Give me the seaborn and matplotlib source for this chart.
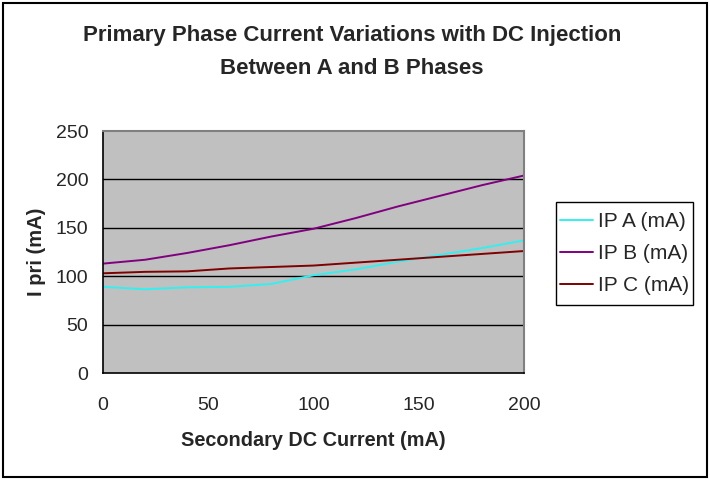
import matplotlib
matplotlib.use("Agg")
import matplotlib.pyplot as plt
import seaborn as sns
import pandas as pd
from matplotlib.patches import Rectangle

x_vals = [0, 20, 40, 60, 80, 100, 120, 140, 160, 180, 200]
ip_a = [89, 86.5, 88.5, 89, 92, 101, 107, 115, 122, 129, 137]
ip_b = [113, 117, 124, 132, 141, 149, 160, 172, 183, 194, 204]
ip_c = [103, 104.5, 105, 108, 109.5, 111, 114, 117, 120, 123, 126]
series_names = ["IP A (mA)", "IP B (mA)", "IP C (mA)"]
colors = ["#33F0F0", "#800080", "#800000"]
y_ticks = [0, 50, 100, 150, 200, 250]
x_ticks = [0, 50, 100, 150, 200]

rows = []
for name, vals in zip(series_names, [ip_a, ip_b, ip_c]):
    for xv, yv in zip(x_vals, vals):
        rows.append({"x": xv, "y": yv, "series": name})
df = pd.DataFrame(rows)

sns.set_style("white")
plt.rcParams['font.family'] = ['Liberation Sans', 'DejaVu Sans']

fig = plt.figure(figsize=(7.1, 4.8), dpi=100)
W, H = 710, 480
ax = fig.add_axes([103 / W, 1 - 373 / H, (524 - 103) / W, (373 - 131) / H])
ax.set_facecolor("#C0C0C0")

sns.lineplot(data=df, x="x", y="y", hue="series", palette=colors,
             hue_order=series_names, ax=ax, linewidth=1.4, legend=False)

ax.set_xlim(0, 200)
ax.set_ylim(0, 250)
ax.set_xticks(x_ticks)
ax.set_yticks(y_ticks)
ax.set_xticklabels([str(v) for v in x_ticks], fontsize=14)
ax.set_yticklabels([str(v) for v in y_ticks], fontsize=14)
for yv in y_ticks[1:-1]:
    ax.axhline(yv, color="black", linewidth=1.0, zorder=1)
ax.tick_params(axis="x", direction="out", length=5, width=1, color="black", pad=12)
ax.tick_params(axis="y", direction="out", length=3.6, width=1, color="black", pad=7)
for s in ["left", "bottom"]:
    ax.spines[s].set_color("black")
    ax.spines[s].set_linewidth(1.2)
for s in ["top", "right"]:
    ax.spines[s].set_color("#808080")
    ax.spines[s].set_linewidth(1.5)
ax.set_xlabel("")
ax.set_ylabel("")

fig.text(313 / W, 1 - 440 / H, "Secondary DC Current (mA)", ha="center", va="center",
         fontsize=14.3, fontweight="bold")
fig.text(37 / W, 1 - 252 / H, "I pri (mA)", ha="center", va="center", rotation=90,
         fontsize=14.5, fontweight="bold")

fig.text(352 / W, 1 - 52 / H, "Primary Phase Current Variations with DC Injection\nBetween A and B Phases",
         ha="center", va="center", fontsize=16, fontweight="bold", linespacing=1.7)

handles = [plt.Line2D([0], [0], color=c, linewidth=1.4) for c in colors]
leg = fig.legend(handles, series_names, loc="upper left",
                 bbox_to_anchor=(560 / W, 1 - 212 / H), borderaxespad=0, fontsize=15,
                 frameon=False, handlelength=1.6, handletextpad=0.2,
                 borderpad=0.0, labelspacing=0.63)

fig.patches.append(Rectangle((556 / W, 1 - 305 / H), (693 - 556) / W, (305 - 202) / H,
                             transform=fig.transFigure, fill=False, edgecolor="black",
                             linewidth=1.0))

fig.patches.append(Rectangle((3 / W, 3 / H), 1 - 6 / W, 1 - 6 / H, transform=fig.transFigure,
                             fill=False, edgecolor="black", linewidth=1.5))

fig.savefig("out.png", dpi=100)
